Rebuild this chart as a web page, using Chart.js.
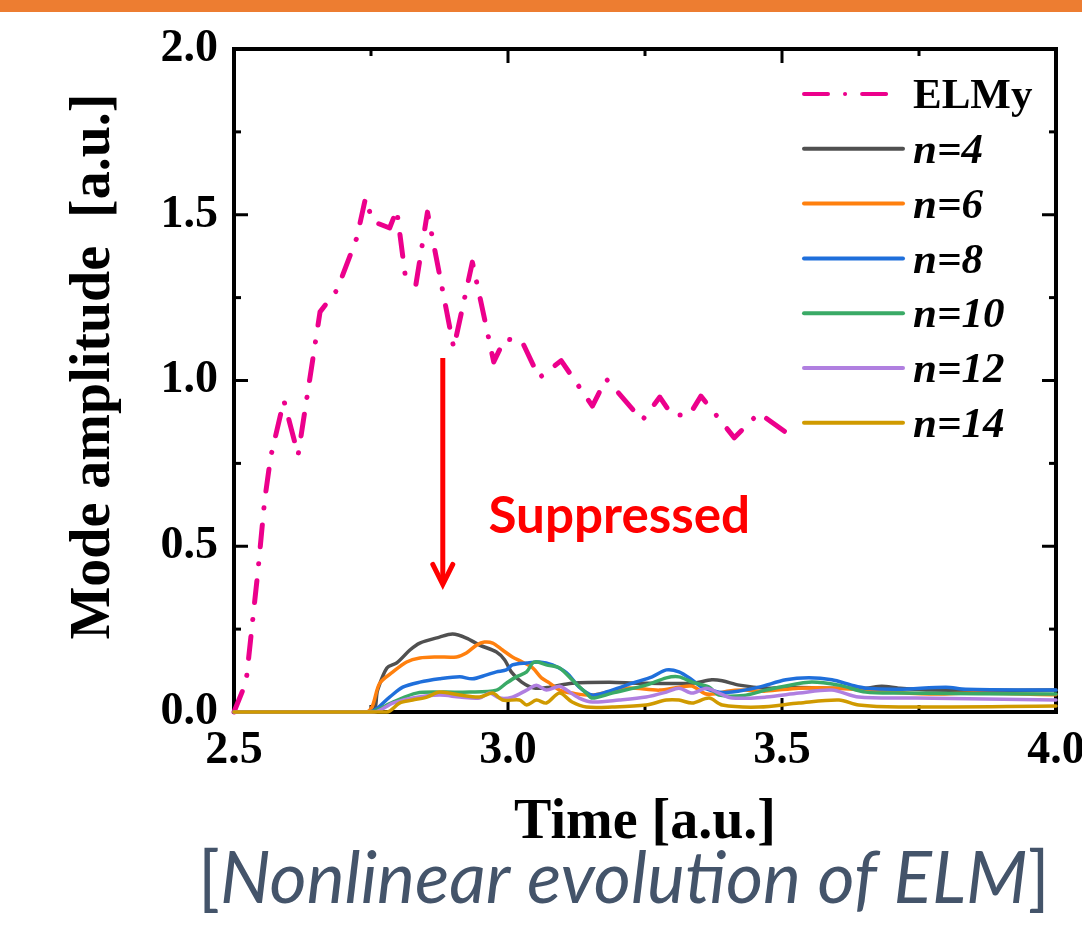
<!DOCTYPE html>
<html>
<head>
<meta charset="utf-8">
<script src="https://cdn.jsdelivr.net/npm/chart.js@4.4.1/dist/chart.umd.min.js"></script>
<style>
  html, body { margin: 0; padding: 0; background: #fff; }
  #wrap { position: relative; width: 1082px; height: 927px; }
</style>
</head>
<body>
<div id="wrap"><canvas id="chart"></canvas></div>
<script>
// ELMy reference case
const elmyT = [2.500, 2.522, 2.544, 2.556, 2.567, 2.591, 2.617, 2.657, 2.688, 2.724, 2.740, 2.753, 2.784, 2.797, 2.813, 2.832, 2.853, 2.901, 2.935, 2.974, 2.994, 3.025, 3.057, 3.097, 3.154, 3.179, 3.245, 3.277, 3.299, 3.331, 3.352, 3.413, 3.458, 3.522];
const elmyA = [0.000, 0.090, 0.430, 0.640, 0.770, 0.940, 0.775, 1.207, 1.273, 1.430, 1.550, 1.480, 1.460, 1.515, 1.310, 1.290, 1.508, 1.098, 1.357, 1.056, 1.125, 1.120, 1.008, 1.060, 0.923, 1.005, 0.880, 0.950, 0.896, 0.896, 0.953, 0.827, 0.902, 0.826];

// toroidal mode numbers with RMP
const n4T = [2.5, 2.751, 2.762, 2.779, 2.797, 2.821, 2.839, 2.875, 2.899, 2.924, 2.948, 2.979, 2.994, 3.006, 3.025, 3.048, 3.076, 3.117, 3.185, 3.240, 3.336, 3.372, 3.391, 3.422, 3.471, 3.507, 3.591, 3.653, 3.682, 3.713, 3.773, 4.0];
const n4A = [0, 0, 0.066, 0.133, 0.148, 0.187, 0.208, 0.226, 0.235, 0.223, 0.202, 0.181, 0.157, 0.121, 0.090, 0.072, 0.075, 0.087, 0.090, 0.087, 0.087, 0.097, 0.094, 0.081, 0.072, 0.075, 0.072, 0.072, 0.078, 0.072, 0.066, 0.066];

const n6T = [2.5, 2.742, 2.766, 2.790, 2.815, 2.839, 2.870, 2.906, 2.924, 2.943, 2.957, 2.972, 2.990, 3.008, 3.026, 3.045, 3.061, 3.076, 3.094, 3.117, 3.154, 3.216, 3.276, 3.312, 3.336, 3.360, 3.380, 3.400, 3.430, 3.470, 3.530, 3.600, 3.650, 3.700, 3.780, 3.850, 4.0];
const n6A = [0, 0, 0.087, 0.121, 0.151, 0.163, 0.166, 0.166, 0.178, 0.202, 0.211, 0.208, 0.187, 0.166, 0.151, 0.133, 0.103, 0.087, 0.066, 0.057, 0.051, 0.072, 0.066, 0.075, 0.078, 0.055, 0.055, 0.063, 0.066, 0.063, 0.072, 0.072, 0.066, 0.060, 0.054, 0.057, 0.052];

const n8T = [2.5, 2.748, 2.784, 2.808, 2.839, 2.875, 2.912, 2.935, 2.961, 2.979, 2.997, 3.008, 3.034, 3.057, 3.081, 3.107, 3.130, 3.154, 3.190, 3.227, 3.263, 3.289, 3.312, 3.336, 3.354, 3.385, 3.409, 3.458, 3.507, 3.549, 3.591, 3.627, 3.653, 3.713, 3.799, 3.835, 4.0];
const n8A = [0, 0, 0.045, 0.075, 0.090, 0.100, 0.106, 0.100, 0.112, 0.121, 0.127, 0.142, 0.148, 0.151, 0.142, 0.118, 0.075, 0.051, 0.066, 0.087, 0.106, 0.127, 0.121, 0.097, 0.075, 0.060, 0.060, 0.075, 0.097, 0.103, 0.097, 0.081, 0.072, 0.069, 0.075, 0.069, 0.066];

const n10T = [2.5, 2.748, 2.790, 2.833, 2.881, 2.930, 2.979, 2.997, 3.015, 3.034, 3.045, 3.054, 3.070, 3.094, 3.117, 3.143, 3.154, 3.190, 3.252, 3.289, 3.312, 3.336, 3.367, 3.385, 3.430, 3.471, 3.549, 3.604, 3.653, 3.713, 4.0];
const n10A = [0, 0, 0.030, 0.057, 0.060, 0.060, 0.066, 0.087, 0.106, 0.121, 0.148, 0.151, 0.142, 0.133, 0.097, 0.057, 0.042, 0.057, 0.081, 0.103, 0.106, 0.090, 0.075, 0.051, 0.050, 0.066, 0.090, 0.081, 0.060, 0.057, 0.054];

const n12T = [2.5, 2.756, 2.790, 2.826, 2.875, 2.912, 2.948, 2.966, 2.985, 3.008, 3.034, 3.052, 3.070, 3.094, 3.107, 3.130, 3.154, 3.203, 3.252, 3.289, 3.312, 3.336, 3.362, 3.385, 3.409, 3.471, 3.531, 3.591, 3.640, 3.744, 4.0];
const n12A = [0, 0, 0.027, 0.042, 0.051, 0.045, 0.042, 0.057, 0.042, 0.045, 0.066, 0.081, 0.066, 0.078, 0.066, 0.042, 0.030, 0.036, 0.045, 0.060, 0.072, 0.057, 0.072, 0.057, 0.042, 0.045, 0.057, 0.066, 0.045, 0.042, 0.036];

const n14T = [2.5, 2.779, 2.802, 2.826, 2.852, 2.875, 2.912, 2.948, 2.972, 2.990, 3.021, 3.034, 3.052, 3.070, 3.094, 3.117, 3.143, 3.190, 3.252, 3.289, 3.312, 3.336, 3.367, 3.391, 3.458, 3.531, 3.604, 3.640, 3.713, 4.0];
const n14A = [0, 0, 0.027, 0.036, 0.045, 0.060, 0.051, 0.045, 0.057, 0.036, 0.036, 0.021, 0.036, 0.027, 0.057, 0.030, 0.015, 0.015, 0.021, 0.036, 0.036, 0.027, 0.042, 0.021, 0.015, 0.027, 0.036, 0.021, 0.015, 0.018];

const seriesNames = ['ELMy', 'n=4', 'n=6', 'n=8', 'n=10', 'n=12', 'n=14'];
const seriesColors = ['#EC008C', '#505050', '#FF800E', '#1F6FDB', '#3AAA66', '#B07FE0', '#D09A00'];

const xMajor = [2.5, 3.0, 3.5, 4.0];
const xMinor = [2.75, 3.25, 3.75];
const yMajor = [0, 0.5, 1.0, 1.5, 2.0];
const yMinor = [0.25, 0.75, 1.25, 1.75];

const serif = '"Liberation Serif", "Times New Roman", serif';
const sans = 'Lato, "Open Sans", sans-serif';

function zip(t, a) {
  return t.map((v, i) => ({ x: v, y: a[i] }));
}

const allT = [elmyT, n4T, n6T, n8T, n10T, n12T, n14T];
const allA = [elmyA, n4A, n6A, n8A, n10A, n12A, n14A];

const datasets = seriesNames.map((name, i) => ({
  label: name,
  data: zip(allT[i], allA[i]),
  borderColor: seriesColors[i],
  backgroundColor: seriesColors[i],
  borderWidth: i === 0 ? 5 : 3.5,
  borderDash: i === 0 ? [22, 17, 0.1, 17] : [],
  borderCapStyle: 'round',
  borderJoinStyle: 'round',
  pointRadius: 0,
  tension: i === 0 ? 0 : 0.3,
  clip: false,
  order: i === 0 ? 7 : 6 - i,
}));

// frame with inward ticks on all four sides
const framePlugin = {
  id: 'frame',
  beforeDatasetsDraw(chart) {
    const { ctx, chartArea: a, scales: { x, y } } = chart;
    ctx.save();
    ctx.strokeStyle = '#000';
    ctx.lineWidth = 3;
    const tick = (x1, y1, x2, y2) => {
      ctx.beginPath(); ctx.moveTo(x1, y1); ctx.lineTo(x2, y2); ctx.stroke();
    };
    [[xMajor, 14], [xMinor, 7]].forEach(([vals, len]) => {
      vals.forEach(v => {
        const px = x.getPixelForValue(v);
        tick(px, a.bottom, px, a.bottom - len);
        tick(px, a.top, px, a.top + len);
      });
    });
    [[yMajor, 14], [yMinor, 7]].forEach(([vals, len]) => {
      vals.forEach(v => {
        const py = y.getPixelForValue(v);
        tick(a.left, py, a.left + len, py);
        tick(a.right, py, a.right - len, py);
      });
    });
    ctx.lineWidth = 4;
    ctx.strokeRect(a.left, a.top, a.right - a.left, a.bottom - a.top);
    ctx.restore();
  }
};

// legend, arrow, annotation text, caption
const extrasPlugin = {
  id: 'extras',
  afterDraw(chart) {
    const { ctx, scales: { x, y } } = chart;
    ctx.save();

    // legend
    const rowTop = 94, rowGap = 54.8;
    chart.data.datasets.forEach((ds, i) => {
      const ry = rowTop + i * rowGap;
      ctx.strokeStyle = ds.borderColor;
      ctx.lineWidth = 4;
      ctx.lineCap = 'round';
      ctx.setLineDash(i === 0 ? [24, 17, 0.1, 17] : []);
      ctx.beginPath(); ctx.moveTo(804, ry); ctx.lineTo(903, ry); ctx.stroke();
      ctx.setLineDash([]);
      ctx.fillStyle = '#000';
      ctx.font = (i === 0 ? 'bold ' : 'italic bold ') + '43px ' + serif;
      ctx.textAlign = 'left';
      ctx.textBaseline = 'middle';
      ctx.fillText(ds.label, 913, ry + 3);
    });

    // suppression arrow
    const ax = x.getPixelForValue(2.881);
    const aTop = y.getPixelForValue(1.068);
    const aTip = y.getPixelForValue(0.385);
    ctx.strokeStyle = '#FF0000';
    ctx.lineWidth = 5;
    ctx.lineCap = 'butt';
    ctx.beginPath(); ctx.moveTo(ax, aTop); ctx.lineTo(ax, aTip - 3); ctx.stroke();
    ctx.lineCap = 'round';
    ctx.lineJoin = 'miter';
    ctx.beginPath();
    ctx.moveTo(ax - 10, aTip - 20); ctx.lineTo(ax, aTip); ctx.lineTo(ax + 10, aTip - 20);
    ctx.stroke();

    ctx.fillStyle = '#FF0000';
    ctx.textAlign = 'center';
    ctx.textBaseline = 'alphabetic';
    let fs = 50;
    ctx.font = 'bold ' + fs + 'px ' + sans;
    fs = fs * 262 / ctx.measureText('Suppressed').width;
    ctx.font = 'bold ' + fs.toFixed(1) + 'px ' + sans;
    ctx.fillText('Suppressed', x.getPixelForValue(3.203), y.getPixelForValue(0.540));

    // caption under the figure
    const parts = [['[', ''], ['Nonlinear evolution of ELM', 'italic '], [']', '']];
    let cs = 60;
    const widthAt = s => parts.reduce((w, [t, st]) => {
      ctx.font = st + s + 'px ' + sans;
      return w + ctx.measureText(t).width;
    }, 0);
    cs = cs * 852 / widthAt(cs);
    let cx = 198;
    ctx.fillStyle = '#44546A';
    ctx.textAlign = 'left';
    parts.forEach(([t, st]) => {
      ctx.font = st + cs.toFixed(1) + 'px ' + sans;
      ctx.fillText(t, cx, 903);
      cx += ctx.measureText(t).width;
    });

    // orange bar at the top of the slide
    ctx.fillStyle = '#ED7D31';
    ctx.fillRect(0, 0, chart.width, 12);
    ctx.restore();
  }
};

new Chart(document.getElementById('chart'), {
  type: 'line',
  data: { datasets },
  options: {
    responsive: true,
    maintainAspectRatio: false,
    animation: false,
    devicePixelRatio: 1,
    layout: { padding: { top: 49, right: 26, left: 0, bottom: 0 } },
    plugins: {
      legend: { display: false },
      tooltip: { enabled: false },
    },
    scales: {
      x: {
        type: 'linear',
        min: 2.5,
        max: 4.0,
        grid: { display: false, drawTicks: false },
        border: { display: false },
        ticks: {
          stepSize: 0.5,
          padding: 12,
          color: '#000',
          font: { family: serif, weight: 'bold', size: 46 },
          maxRotation: 0,
          callback: v => v.toFixed(1),
        },
        title: {
          display: true,
          text: 'Time [a.u.]',
          color: '#000',
          font: { family: serif, weight: 'bold', size: 56 },
          padding: { top: 0, bottom: 70 },
        },
        afterFit(scale) {
          scale.height = 215;
          scale.paddingLeft = 0;
          scale.paddingRight = 0;
        },
      },
      y: {
        min: 0,
        max: 2.0,
        grid: { display: false, drawTicks: false },
        border: { display: false },
        ticks: {
          stepSize: 0.5,
          padding: 16,
          color: '#000',
          font: { family: serif, weight: 'bold', size: 46 },
          callback: v => v.toFixed(1),
        },
        title: {
          display: true,
          text: '  Mode amplitude  [a.u.]',
          color: '#000',
          font: { family: serif, weight: 'bold', size: 56 },
          padding: { top: 61, bottom: 0 },
        },
        afterFit(scale) {
          scale.width = 234;
          scale.paddingTop = 0;
          scale.paddingBottom = 0;
        },
      },
    },
  },
  plugins: [framePlugin, extrasPlugin],
});
</script>
</body>
</html>
